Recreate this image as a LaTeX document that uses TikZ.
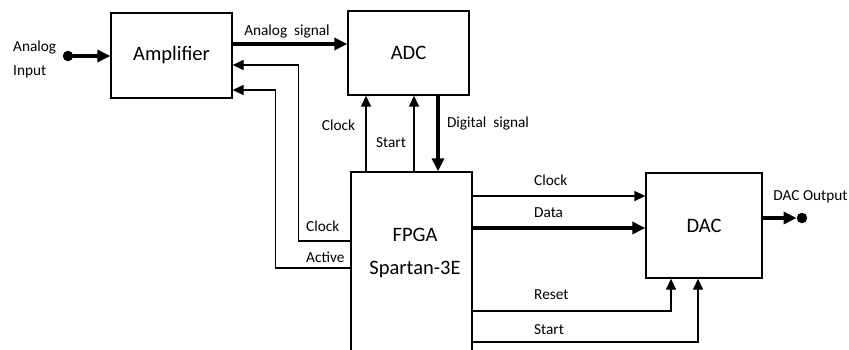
\documentclass[tikz,border=0pt]{standalone}
\usepackage{fontspec}
\setmainfont{Carlito}
\usetikzlibrary{arrows.meta}
\definecolor{DiagInk}{HTML}{000000}
\definecolor{DiagPaper}{HTML}{FFFFFF}
\tikzset{
  every node/.style={text=DiagInk},
  block/.style={draw=DiagInk, line width=1.3pt, fill=DiagPaper, font=\fontsize{20.5}{33}\selectfont},
  blocktext/.style={font=\fontsize{20.5}{33}\selectfont, align=center},
  tag/.style={font=\fontsize{15.3}{24}\selectfont, inner sep=0pt},
  wire/.style={-{Triangle[length=11pt,width=10pt]}, draw=DiagInk, line width=1.3pt},
  bus/.style={-{Triangle[length=13pt,width=12pt]}, draw=DiagInk, line width=4pt},
  pin/.style={circle, fill=DiagInk, inner sep=0pt, minimum size=10.5pt},
}

\begin{document}
\begin{tikzpicture}[x=1pt, y=-1pt]
  \clip (0,0) rectangle (849,349);
  % Blocks
  \node[block, minimum width=121pt, minimum height=85pt] (amp) at (171.5,55.5) {Amplifier};
  \node[block, minimum width=121pt, minimum height=84pt] (adc) at (408.5,53) {ADC};
  \node[block, minimum width=121pt, minimum height=190pt] (fpga) at (411.5,267) {};
  \node[blocktext] (fpgatext) at (415,253) {FPGA\\Spartan-3E};
  \node[block, minimum width=116pt, minimum height=105pt] (dac) at (704,225.5) {DAC};
  % Analog input into the amplifier
  \node[pin] (ain) at (68,56) {};
  \node[tag, align=left, anchor=west] (ainlabel) at (13,59) {Analog\\Input};
  \draw[bus] (ain) -- (amp.west |- ain);
  % Amplifier to ADC
  \coordinate (asig) at ([yshift=11.5pt]amp.east);
  \draw[bus] (asig) -- (asig -| adc.west);
  \node[tag] (asiglabel) at (287,31) {Analog\ \ signal};
  % FPGA back to the amplifier
  \draw[wire] ([yshift=26pt]fpga.west) -- ++(-52,0) |- ([yshift=-9.5pt]amp.east);
  \draw[wire] ([yshift=-1pt]fpga.west) -- ++(-75,0) |- ([yshift=-34.5pt]amp.east);
  \node[tag, anchor=west] (fclklabel) at (306,226) {Clock};
  \node[tag, anchor=west] (actlabel) at (306,257) {Active};
  % FPGA and ADC
  \coordinate (aclk) at ([xshift=-45.5pt]fpga.north);
  \coordinate (astart) at ([xshift=2.5pt]fpga.north);
  \coordinate (dsig) at ([xshift=29.5pt]adc.south);
  \draw[wire] (aclk) -- (aclk |- adc.south);
  \draw[wire] (astart) -- (astart |- adc.south);
  \draw[bus] (dsig) -- (dsig |- fpga.north);
  \node[tag] (aclklabel) at (338.5,125) {Clock};
  \node[tag] (astartlabel) at (391,143) {Start};
  \node[tag] (dsiglabel) at (488,123) {Digital\ \ signal};
  % FPGA to DAC
  \coordinate (dclk) at ([yshift=71pt]fpga.east);
  \coordinate (ddata) at ([yshift=39pt]fpga.east);
  \draw[wire] (dclk) -- (dclk -| dac.west);
  \draw[bus] (ddata) -- (ddata -| dac.west);
  \draw[wire] ([yshift=-44pt]fpga.east) -| ([xshift=-33pt]dac.south);
  \draw[wire] ([yshift=-75pt]fpga.east) -| ([xshift=-6pt]dac.south);
  \node[tag, anchor=west] (dclklabel) at (534,180) {Clock};
  \node[tag, anchor=west] (ddatalabel) at (534,213) {Data};
  \node[tag, anchor=west] (drstlabel) at (534,295) {Reset};
  \node[tag, anchor=west] (dstartlabel) at (534,330) {Start};
  % DAC output
  \node[pin] (aout) at (802,218) {};
  \draw[bus] (dac.east |- aout) -- (aout.west);
  \node[tag] (aoutlabel) at (810.5,197) {DAC Output};
\end{tikzpicture}
\end{document}
